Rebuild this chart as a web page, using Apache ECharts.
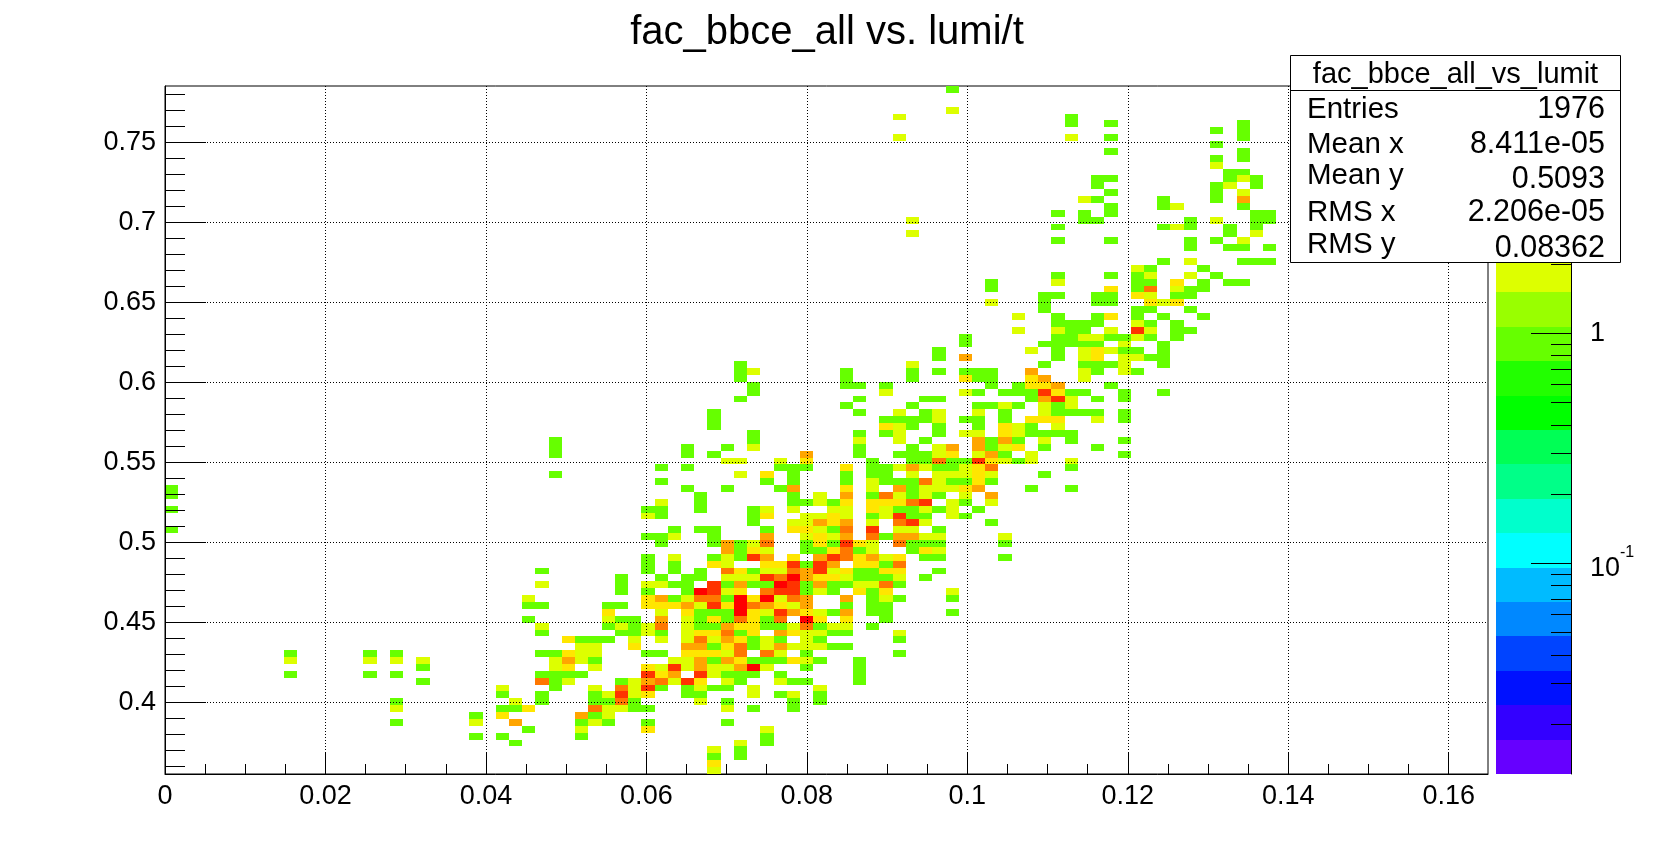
<!DOCTYPE html>
<html><head><meta charset="utf-8">
<style>html,body{margin:0;padding:0;background:#fff}#c{width:1654px;height:861px}</style>
<script src="https://cdn.jsdelivr.net/npm/echarts@6/dist/echarts.min.js"></script>
</head><body><div id="c"></div>
<script>
// Axis ranges and bins (100 x 100 histogram)
const xRange = [0, 0.1649];
const yRange = [0.3552, 0.7852];
const binCount = 100;
const xMajor = [0,0.02,0.04,0.06,0.08,0.1,0.12,0.14,0.16];
const xMinor = [0.005,0.01,0.015,0.025,0.03,0.035,0.045,0.05,0.055,0.065,0.07,0.075,0.085,0.09,0.095,0.105,0.11,0.115,0.125,0.13,0.135,0.145,0.15,0.155];
const yMajor = [0.4,0.45,0.5,0.55,0.6,0.65,0.7,0.75];
const yMinor = [0.36,0.37,0.38,0.39,0.41,0.42,0.43,0.44,0.46,0.47,0.48,0.49,0.51,0.52,0.53,0.54,0.56,0.57,0.58,0.59,0.61,0.62,0.63,0.64,0.66,0.67,0.68,0.69,0.71,0.72,0.73,0.74,0.76,0.77,0.78];
const zRange = [0.01213, 11.9];
const zMajor = [0.1, 1];
const zMinor = [0.02,0.03,0.04,0.05,0.06,0.07,0.08,0.09,0.2,0.3,0.4,0.5,0.6,0.7,0.8,0.9,2,3];
const bandColors = ['#6600ff','#3300ff','#0011ff','#0044ff','#0088ff','#00bbff','#00ffff','#00ffcc','#00ff88','#00ff55','#00ff00','#22ff00','#66ff00','#99ff00','#ddff00','#ffe600','#ffa500','#ff7700','#ff3300','#ff0000'];
const countBand = [12,14,15,16,17,18,19];
const title = 'fac_bbce_all vs. lumi/t';
const statsName = 'fac_bbce_all_vs_lumit';
const statsLabels = ['Entries','Mean x','Mean y','RMS x','RMS y'];
const statsValues = ['1976','8.411e-05','0.5093','2.206e-05','0.08362'];

// Histogram rows: [y bin, [x bin, count, x bin, count, ...]]
const histRows = [
[0,[41,2]],
[1,[41,3]],
[2,[41,1,43,1]],
[3,[41,2,43,1]],
[4,[26,1,43,2,45,1]],
[5,[23,1,25,1,31,1,45,1]],
[6,[27,1,31,2,36,3,45,2]],
[7,[17,1,23,2,26,4,31,1,32,2,33,1,36,1,42,1]],
[8,[23,1,25,3,31,4,32,1,33,2]],
[9,[17,2,25,1,26,1,27,3,32,5,33,2,34,2,35,1,36,1,42,2,44,1,47,1]],
[10,[17,1,26,2,28,1,32,1,33,1,34,5,35,1,40,2,42,1,47,1,49,1]],
[11,[25,1,28,1,32,1,33,2,34,6,35,2,36,3,39,1,40,1,44,2,46,1,47,2,49,1]],
[12,[25,2,29,1,32,2,34,5,35,2,36,6,37,1,39,1,40,2,41,1,42,1,44,2,49,2]],
[13,[19,1,28,5,29,1,30,2,34,1,35,2,36,4,37,5,38,2,39,6,40,3,42,2,43,1,46,2,47,1,48,1,52,1]],
[14,[9,1,15,1,17,1,28,1,29,1,30,1,31,1,36,6,37,3,38,4,40,6,41,2,42,1,43,1,44,1,46,1,52,1]],
[15,[19,1,29,2,30,3,32,2,36,3,37,2,38,6,39,2,40,4,41,2,42,2,43,4,44,7,45,2,48,1,52,1]],
[16,[9,2,15,2,17,2,19,2,29,2,30,4,31,2,32,1,38,2,39,2,40,4,41,1,42,4,43,3,44,1,45,1,46,1,47,3,48,2,49,1,52,1]],
[17,[9,1,15,1,17,1,28,1,29,1,30,3,31,2,32,2,36,1,37,1,39,3,40,3,41,3,42,2,43,5,45,5,46,2,48,1,55,1]],
[18,[31,2,32,2,35,3,39,4,40,4,41,1,42,3,43,5,44,1,45,2,46,4,47,2,48,2,49,2,50,1,51,1]],
[19,[30,3,31,1,32,1,33,1,35,2,37,2,39,2,40,5,41,2,42,4,43,3,44,1,45,2,46,1,48,2,49,1,55,1]],
[20,[28,1,34,1,35,1,36,2,37,1,39,2,40,3,41,3,42,5,43,1,44,3,46,4,47,3,48,2,49,2,50,1,51,1,55,2]],
[21,[28,2,33,1,34,2,35,1,36,2,37,5,39,2,40,1,41,1,42,4,43,3,44,3,45,1,46,1,47,2,48,5,49,1,50,2,51,2,53,1]],
[22,[27,1,33,2,34,1,35,1,37,4,39,2,40,1,41,3,42,1,43,5,44,3,45,1,46,5,48,7,49,3,51,3,54,1]],
[23,[33,3,37,2,39,3,40,1,41,1,42,1,43,7,44,3,45,2,46,6,47,4,48,3,49,2,50,1,51,4,53,1,54,1,59,1]],
[24,[27,1,28,1,33,1,34,1,36,3,37,3,38,3,39,4,40,2,41,6,42,3,43,7,44,5,45,4,46,3,47,2,48,4,51,1,53,1,54,1]],
[25,[27,2,36,3,37,4,38,1,39,2,40,5,41,5,42,1,43,7,44,3,45,7,46,2,47,5,48,4,51,4,53,1,54,2,55,1,59,1]],
[26,[34,1,36,1,39,1,40,7,41,6,42,2,43,3,45,5,46,6,47,6,48,1,49,2,50,1,52,3,53,1,54,3,59,2]],
[27,[28,2,34,1,36,2,37,2,38,1,39,1,41,6,42,1,43,4,44,1,45,1,46,7,47,6,48,1,49,4,50,1,51,1,52,2,53,2,54,5,55,1]],
[28,[34,1,37,1,39,1,40,1,42,2,43,2,44,2,45,6,46,5,47,7,48,4,49,3,50,3,51,2,52,1,53,1,54,1,55,2,57,1]],
[29,[28,1,36,1,38,1,40,1,42,5,43,3,44,1,45,2,46,2,47,5,48,4,49,6,50,2,51,3,52,1,53,1,54,3,55,3,58,1]],
[30,[36,1,38,1,41,3,42,2,45,3,46,3,47,6,48,1,49,6,50,4,52,3,53,3,54,1,55,5]],
[31,[36,1,38,2,41,1,42,2,43,1,44,6,45,4,47,3,49,4,50,6,51,5,52,3,53,4,54,2,55,3,57,1,58,1,63,1]],
[32,[42,4,43,1,44,3,45,2,48,1,49,1,50,3,51,5,52,1,53,2,56,1,57,3,58,2]],
[33,[37,1,41,1,42,4,43,1,44,2,45,5,48,1,49,3,50,1,51,6,52,3,53,2,55,5,56,1,57,1,58,1,63,1]],
[34,[36,1,37,1,38,2,41,1,45,4,48,2,49,3,50,2,51,4,53,5,54,1,55,4,56,4,57,2,58,2,63,2]],
[35,[0,1,38,1,40,1,41,1,45,1,47,3,48,3,49,2,50,1,51,5,53,6,55,2,56,2,58,1]],
[36,[44,1,47,2,48,2,49,4,50,3,51,4,53,2,55,5,56,6,57,2,62,1]],
[37,[36,2,37,1,44,1,45,3,48,2,49,2,50,3,51,2,53,1,54,2,55,6,56,1,57,1,59,2,60,1]],
[38,[0,1,36,1,37,1,40,1,44,1,45,2,47,2,50,2,51,2,53,3,54,2,55,1,56,1,57,2,58,1,59,2,61,1]],
[39,[37,2,40,1,47,1,48,1,49,2,50,1,51,3,53,3,54,3,55,3,56,5,57,6,59,2,60,1,62,2]],
[40,[0,1,40,1,47,1,49,2,51,4,53,1,54,5,55,2,56,1,57,2,58,1,60,2,62,4]],
[41,[0,1,39,1,42,1,46,1,47,4,51,3,53,2,55,4,56,1,57,2,58,2,59,2,60,3,61,4,65,1,68,1]],
[42,[37,1,45,1,47,1,51,1,53,2,54,1,55,1,56,1,57,5,58,2,59,1,60,1,61,3,62,1]],
[43,[29,1,43,2,45,3,47,1,51,1,53,1,54,1,56,2,58,2,59,2,60,2,61,3,62,2,66,1]],
[44,[37,1,39,1,46,1,47,1,48,1,51,3,53,1,54,1,55,2,56,4,57,2,58,1,59,1,60,2,61,3,62,5,68,1]],
[45,[42,2,43,2,46,2,48,3,53,1,56,1,57,1,58,5,59,1,60,1,61,6,62,3,63,2,64,1,65,2,68,2]],
[46,[29,1,39,1,41,1,48,4,52,1,55,1,56,1,57,1,58,2,59,3,61,2,62,4,63,1,65,2,72,1]],
[47,[29,1,39,1,42,1,44,2,52,1,56,1,58,2,59,4,61,4,62,1,63,2,64,3,66,1,70,1]],
[48,[29,1,44,1,52,2,55,2,57,1,61,4,62,1,63,4,64,1,66,2,68,1,72,1]],
[49,[44,1,52,1,54,1,55,2,58,1,60,2,61,2,63,3,64,2,65,1,66,1,67,1,68,1]],
[50,[41,1,54,3,55,2,56,1,58,1,61,1,63,3,64,2,65,1,67,2]],
[51,[41,1,54,1,55,1,56,1,57,1,58,2,60,1,61,1,63,1,65,3,66,3,67,3,70,2,72,1]],
[52,[41,1,52,1,55,2,57,1,58,2,61,2,63,1,66,2,67,1,68,1,69,1,70,1,72,1]],
[53,[51,1,56,1,61,1,62,1,63,2,64,1,66,2,67,1,68,2]],
[54,[43,1,52,1,57,1,58,1,65,1,66,4,67,6,68,2,70,1,72,1]],
[55,[44,1,54,2,60,2,61,1,63,1,64,1,65,1,66,6,67,3,68,1,69,1,72,1,75,1]],
[56,[44,1,51,1,52,1,54,1,62,1,64,1,65,3,66,3,67,4,71,1]],
[57,[43,1,51,1,56,1,60,3,61,1,62,1,65,3,66,4,69,2]],
[58,[43,1,44,2,51,1,56,1,58,1,60,1,61,1,62,1,65,4,69,2,70,1,72,2,73,1]],
[59,[43,1,56,2,66,1,69,1,70,1,71,1,72,2,75,1]],
[60,[58,1,60,4,67,1,69,2,70,3,72,2,73,2,74,1,75,1]],
[61,[58,1,65,2,67,1,69,2,70,3,71,2,72,1,73,1,75,1]],
[62,[60,1,66,1,67,1,68,1,69,1,70,1,72,2,75,1]],
[63,[60,1,67,1,68,1,69,2,70,2,71,1,72,1,73,2,74,1,76,1]],
[64,[64,2,67,2,68,1,69,1,71,2,73,6,74,2,76,1,77,1]],
[65,[67,1,68,1,69,1,70,1,73,2,74,1,76,1]],
[66,[64,2,67,1,70,1,71,3,73,1,75,1,78,1]],
[67,[66,1,73,1,74,1,77,1]],
[68,[62,2,66,1,70,1,71,1,74,3,75,2,76,3]],
[69,[66,1,67,1,70,1,71,1,73,3,74,2,76,1,77,1]],
[70,[62,1,71,3,73,1,74,5,76,2,77,1,78,1]],
[71,[62,1,67,2,73,1,74,1,76,3,78,1,80,1,81,1]],
[72,[67,1,71,1,73,1,74,2,77,2,79,1]],
[73,[73,2,74,1,78,1]],
[74,[75,1,77,2,81,1,82,1,83,1]],
[76,[77,1,80,1,81,1,83,1]],
[77,[67,1,71,1,77,1,79,1,81,2]],
[78,[56,2,80,1,82,2]],
[79,[67,1,75,1,76,2,77,1,80,1,82,1]],
[80,[56,2,69,1,70,1,77,1,79,2,82,1,83,1]],
[81,[67,1,69,1,71,1,82,1,83,1]],
[82,[71,1,75,1,76,2,81,1]],
[83,[69,2,70,1,75,1,79,1,81,4]],
[84,[71,1,79,1,81,2]],
[85,[70,1,79,1,80,2,82,1]],
[86,[70,1,71,1,80,1,81,2,82,1]],
[87,[80,1,81,1]],
[88,[79,2]],
[89,[79,1,81,1]],
[90,[71,1,81,1]],
[91,[79,1]],
[92,[55,2,68,2,71,1,81,1]],
[93,[79,1,81,1]],
[94,[68,1,71,1,81,1]],
[95,[55,2,68,1]],
[96,[59,2]],
[99,[59,1]]
];

const font = '"Liberation Sans", Arial, sans-serif';
const labelSize = 27;
const xBinW = (xRange[1]-xRange[0])/binCount;
const yBinH = (yRange[1]-yRange[0])/binCount;
const cells = [];
histRows.forEach(r => { for (let k=0;k<r[1].length;k+=2) cells.push([r[1][k], r[0], r[1][k+1]]); });
const bands = bandColors.map((c,k)=>[k]);
const zLo = Math.log10(zRange[0]), zHi = Math.log10(zRange[1]);

const chart = echarts.init(document.getElementById('c'), null, {renderer:'canvas', width:1654, height:861});
const blackLine = {color:'#000', width:1};
const txt = (t,x,y,align,size) => ({type:'text', z:101, style:{text:t, x:x, y:y, align:align, verticalAlign:'middle', font:size+'px '+font, fill:'#000'}});
const statsYL = [110,145,176,213,245], statsYR = [110,145,180,213,249];
chart.setOption({
  animation:false,
  backgroundColor:'#fff',
  title:{text:title,left:822,top:8,textAlign:'center',textStyle:{fontFamily:font,fontSize:40,fontWeight:'normal',color:'#000'}},
  grid:[
    {left:165,top:86,width:1323,height:688,show:true,borderColor:'#000',borderWidth:1,backgroundColor:'transparent'},
    {left:1496,top:86,width:75,height:688,show:false}
  ],
  xAxis:[
    {type:'value',gridIndex:0,position:'bottom',min:xRange[0],max:xRange[1],z:5,
     axisLine:{onZero:false,lineStyle:blackLine},
     axisTick:{show:true,inside:true,length:21,customValues:xMajor,lineStyle:blackLine},
     axisLabel:{show:true,customValues:xMajor,margin:9,fontFamily:font,fontSize:labelSize,color:'#000',formatter:v=>String(+v.toFixed(3)),showMinLabel:true,showMaxLabel:true},
     splitLine:{show:true,lineStyle:{color:'#000',width:1,type:[1,2]}}},
    {type:'value',gridIndex:0,position:'bottom',min:xRange[0],max:xRange[1],z:5,
     axisLine:{show:false,onZero:false},axisLabel:{show:false},splitLine:{show:false},
     axisTick:{show:true,inside:true,length:10,customValues:xMinor,lineStyle:blackLine}},
    {type:'value',gridIndex:1,min:0,max:1,show:false,axisLine:{onZero:false}}
  ],
  yAxis:[
    {type:'value',gridIndex:0,position:'left',min:yRange[0],max:yRange[1],z:5,
     axisLine:{onZero:false,lineStyle:blackLine},
     axisTick:{show:true,inside:true,length:41,customValues:yMajor,lineStyle:blackLine},
     axisLabel:{show:true,customValues:yMajor,margin:9,padding:[8,0,0,0],fontFamily:font,fontSize:labelSize,color:'#000',formatter:v=>String(+v.toFixed(3))},
     splitLine:{show:true,lineStyle:{color:'#000',width:1,type:[1,2]}}},
    {type:'value',gridIndex:0,position:'left',min:yRange[0],max:yRange[1],z:5,
     axisLine:{show:false,onZero:false},axisLabel:{show:false},splitLine:{show:false},
     axisTick:{show:true,inside:true,length:20,customValues:yMinor,lineStyle:blackLine}},
    {type:'log',logBase:10,gridIndex:1,position:'right',min:zRange[0],max:zRange[1],z:5,
     axisLine:{show:true,onZero:false,lineStyle:blackLine},
     axisTick:{show:true,inside:true,length:40,customValues:zMajor,lineStyle:blackLine},
     axisLabel:{show:true,customValues:zMajor,margin:19,fontFamily:font,fontSize:labelSize,color:'#000',
       formatter:v=> +v===1 ? '{a|1}' : '{c|10}{b|-1}',
       rich:{a:{fontFamily:font,fontSize:labelSize,color:'#000'},
             c:{fontFamily:font,fontSize:labelSize,color:'#000',padding:[10,0,0,0]},
             b:{fontFamily:font,fontSize:16,color:'#000',verticalAlign:'top'}}},
     splitLine:{show:false}},
    {type:'log',logBase:10,gridIndex:1,position:'right',min:zRange[0],max:zRange[1],z:5,
     axisLine:{show:false,onZero:false},axisLabel:{show:false},splitLine:{show:false},
     axisTick:{show:true,inside:true,length:20,customValues:zMinor,lineStyle:blackLine}}
  ],
  series:[
    {type:'custom',name:'cells',xAxisIndex:0,yAxisIndex:0,z:2,clip:true,silent:true,
     data:cells,encode:{x:0,y:1},
     renderItem:(p,api)=>{
       const i=api.value(0), j=api.value(1), n=api.value(2);
       const a=api.coord([i*xBinW+xRange[0], (j+1)*yBinH+yRange[0]]);
       const b=api.coord([(i+1)*xBinW+xRange[0], j*yBinH+yRange[0]]);
       const x=Math.round(a[0]), y=Math.round(a[1]);
       return {type:'rect',shape:{x:x,y:y,width:Math.round(b[0])-x,height:Math.round(b[1])-y},
               style:{fill:bandColors[countBand[Math.min(n,7)-1]]}};
     }},
    {type:'custom',name:'palette',xAxisIndex:2,yAxisIndex:2,z:2,silent:true,
     data:bands,encode:{y:0},
     renderItem:(p,api)=>{
       const k=api.value(0);
       const a=api.coord([0, Math.pow(10, zLo+(zHi-zLo)*(k+1)/bandColors.length)]);
       const b=api.coord([1, Math.pow(10, zLo+(zHi-zLo)*k/bandColors.length)]);
       const y=Math.round(a[1]);
       return {type:'rect',shape:{x:Math.round(a[0]),y:y,width:Math.round(b[0]-a[0]),height:Math.round(b[1])-y},style:{fill:bandColors[k]}};
     }}
  ],
  graphic:[
    {type:'rect',z:100,shape:{x:1290.5,y:55.5,width:330,height:207},style:{fill:'#fff',stroke:'#000',lineWidth:1}},
    {type:'line',z:101,shape:{x1:1290,y1:90.5,x2:1621,y2:90.5},style:{stroke:'#000',lineWidth:1}},
    txt(statsName,1455.5,75,'center',29),
    ...statsLabels.map((t,k)=>txt(t,1307,statsYL[k],'left',29.5)),
    ...statsValues.map((t,k)=>txt(t,1605,statsYR[k],'right',30.5))
  ]
});
</script></body></html>
